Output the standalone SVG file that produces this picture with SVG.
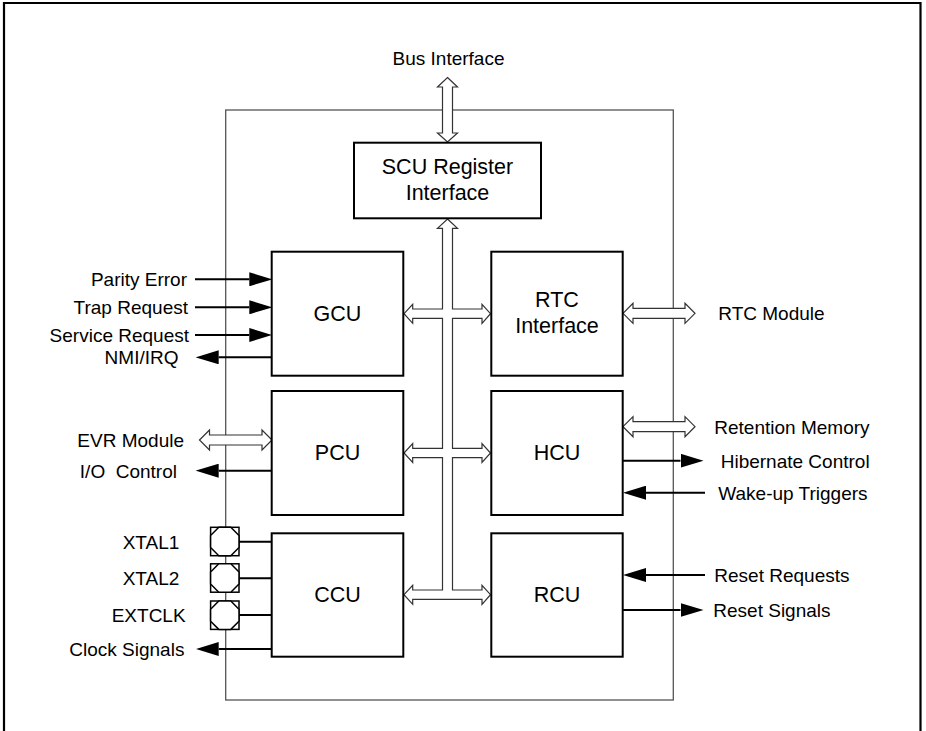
<svg xmlns="http://www.w3.org/2000/svg" width="926" height="731" viewBox="0 0 926 731">
<style>
.box{fill:#fff;stroke:#000;stroke-width:2}
.frame{fill:none;stroke:#555;stroke-width:1.3}
.outer{fill:none;stroke:#000;stroke-width:2.2}
.bus{fill:#fff;stroke:#333;stroke-width:1.2;stroke-linejoin:miter}
.sig{stroke:#000;stroke-width:2;fill:none}
.pad{fill:#fff;stroke:#000;stroke-width:1.5}
text{font-family:"Liberation Sans",Arial,Helvetica,sans-serif;font-size:19px;fill:#000}
.blk{font-size:21.5px;text-anchor:middle}
.end{text-anchor:end}
</style>
<defs>
<marker id="ah" viewBox="0 0 23 14" refX="0" refY="7" markerWidth="23" markerHeight="14" markerUnits="userSpaceOnUse" orient="auto">
<path d="M0,0 L23,7 L0,14 z" fill="#000"/>
</marker>
<g id="padshape">
<rect class="pad" x="-14.2" y="-14.2" width="28.4" height="28.4"/>
<polygon class="pad" points="-6,-14.2 6,-14.2 14.2,-6 14.2,6 6,14.2 -6,14.2 -14.2,6 -14.2,-6"/>
</g>
</defs>
<rect width="926" height="731" fill="#fff"/>
<path class="outer" d="M4,731 V3 H920.5 V731"/>
<rect id="frame" class="frame" x="225.7" y="110" width="447.6" height="590"/>

<g id="connectors">
<path class="bus" d="M447.5,77.5 L457.5,87 L452.5,87 L452.5,133 L457.5,133 L447.5,142 L437.5,133 L442.5,133 L442.5,87 L437.5,87 Z"/>
<path class="bus" d="M447.5,219 L457.5,228.3 L452.5,228.3 L452.5,309 L482,309 L482,304.3 L490.5,313.7 L482,323.3 L482,318.3 L452.5,318.3 L452.5,448.3 L482,448.3 L482,443.5 L490.5,453 L482,462.5 L482,457.7 L452.5,457.7 L452.5,590 L482,590 L482,585.3 L490.5,594.7 L482,604.3 L482,599.3 L412.7,599.3 L412.7,604.3 L404,594.7 L412.7,585.3 L412.7,590 L442.5,590 L442.5,457.7 L412.7,457.7 L412.7,462.5 L404,453 L412.7,443.5 L412.7,448.3 L442.5,448.3 L442.5,318.3 L412.7,318.3 L412.7,323.3 L404,313.7 L412.7,304.3 L412.7,309 L442.5,309 L442.5,228.3 L437.5,228.3 Z"/>
<path class="bus" d="M199.5,440 L209.5,430 L209.5,435 L262,435 L262,430 L272,440 L262,450 L262,445 L209.5,445 L209.5,450 Z"/>
<path class="bus" d="M623,313.3 L633,303.3 L633,308.3 L685,308.3 L685,303.3 L695,313.3 L685,323.3 L685,318.3 L633,318.3 L633,323.3 Z"/>
<path class="bus" d="M623,426.7 L633,416.7 L633,421.7 L685,421.7 L685,416.7 L695,426.7 L685,436.7 L685,431.7 L633,431.7 L633,436.7 Z"/>
<line class="sig" x1="195" y1="279.3" x2="249.3" y2="279.3" marker-end="url(#ah)"/>
<line class="sig" x1="195" y1="307.3" x2="249.3" y2="307.3" marker-end="url(#ah)"/>
<line class="sig" x1="195" y1="335" x2="249.3" y2="335" marker-end="url(#ah)"/>
<line class="sig" x1="272" y1="357.3" x2="218.7" y2="357.3" marker-end="url(#ah)"/>
<line class="sig" x1="272" y1="470.7" x2="218.7" y2="470.7" marker-end="url(#ah)"/>
<line class="sig" x1="239" y1="541.7" x2="272" y2="541.7"/>
<line class="sig" x1="239" y1="578.3" x2="272" y2="578.3"/>
<line class="sig" x1="239" y1="615" x2="272" y2="615"/>
<line class="sig" x1="272" y1="649" x2="218.7" y2="649" marker-end="url(#ah)"/>
<line class="sig" x1="622.7" y1="460.7" x2="680.5" y2="460.7" marker-end="url(#ah)"/>
<line class="sig" x1="705" y1="492.7" x2="646" y2="492.7" marker-end="url(#ah)"/>
<line class="sig" x1="705" y1="575" x2="646" y2="575" marker-end="url(#ah)"/>
<line class="sig" x1="622.7" y1="610" x2="680.5" y2="610" marker-end="url(#ah)"/>
</g>

<g id="pad-xtal1"><use href="#padshape" transform="translate(224.8,541.5)"/></g>
<g id="pad-xtal2"><use href="#padshape" transform="translate(224.8,578)"/></g>
<g id="pad-extclk"><use href="#padshape" transform="translate(224.8,615.2)"/></g>

<g id="scu"><rect class="box" x="354" y="142.7" width="187" height="75.6"/>
<text class="blk" x="447.5" y="174">SCU Register</text><text class="blk" x="447.5" y="200">Interface</text></g>
<g id="gcu"><rect class="box" x="271.7" y="251.7" width="131.6" height="124"/><text class="blk" x="337.5" y="320.5">GCU</text></g>
<g id="pcu"><rect class="box" x="271.7" y="391" width="131.6" height="124"/><text class="blk" x="337.5" y="459.5">PCU</text></g>
<g id="ccu"><rect class="box" x="271.7" y="533.3" width="131.6" height="123.4"/><text class="blk" x="337.5" y="601.5">CCU</text></g>
<g id="rtc"><rect class="box" x="491.3" y="251.7" width="131.4" height="124"/>
<text class="blk" x="557" y="306.7">RTC</text><text class="blk" x="557" y="332.7">Interface</text></g>
<g id="hcu"><rect class="box" x="491.3" y="391" width="131.4" height="124"/><text class="blk" x="557" y="459.5">HCU</text></g>
<g id="rcu"><rect class="box" x="491.3" y="533.3" width="131.4" height="123.4"/><text class="blk" x="557" y="601.5">RCU</text></g>

<g id="labels">
<text x="448.5" y="65" text-anchor="middle">Bus Interface</text>
<text class="end" x="187" y="286">Parity Error</text>
<text class="end" x="188" y="314">Trap Request</text>
<text class="end" x="189" y="341.8">Service Request</text>
<text class="end" x="178.5" y="364.3">NMI/IRQ</text>
<text class="end" x="184" y="446.8">EVR Module</text>
<text class="end" x="177" y="477.5" xml:space="preserve">I/O  Control</text>
<text x="122.7" y="548.5">XTAL1</text>
<text x="122.7" y="585">XTAL2</text>
<text x="111.7" y="621.8">EXTCLK</text>
<text x="69.3" y="655.8">Clock Signals</text>
<text x="718.3" y="320">RTC Module</text>
<text x="714.3" y="433.5">Retention Memory</text>
<text x="720.7" y="467.5">Hibernate Control</text>
<text x="718.3" y="499.5">Wake-up Triggers</text>
<text x="714.3" y="581.8">Reset Requests</text>
<text x="713.3" y="616.8">Reset Signals</text>
</g>
</svg>
